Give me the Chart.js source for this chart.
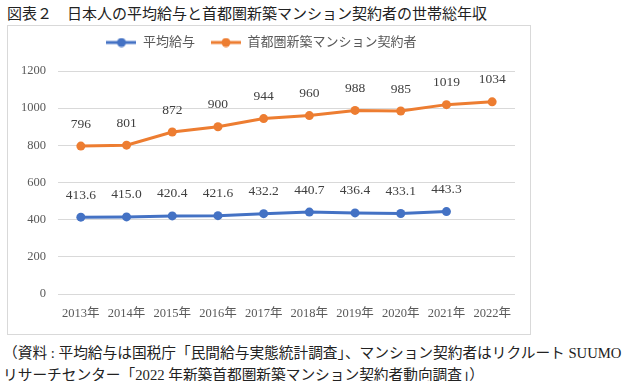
<!DOCTYPE html>
<html>
<head>
<meta charset="utf-8">
<script src="https://cdn.jsdelivr.net/npm/chart.js@4/dist/chart.umd.min.js"></script>
<style>
  body { margin: 0; background: #fff; width: 630px; height: 381px; position: relative; overflow: hidden; }
  .serif { font-family: "Liberation Serif", "Noto Sans CJK JP", serif; color: #222; }
  #title { position: absolute; left: 7px; top: 2px; font-size: 15px; white-space: nowrap; }
  #box { position: absolute; left: 7px; top: 25px; width: 522px; height: 308px; border: 1px solid #d9d9d9; }
  #wrap { position: absolute; left: 8px; top: 20px; width: 521px; height: 313px; }
  .note { position: absolute; left: 3px; font-size: 14.7px; white-space: nowrap; }
</style>
</head>
<body>
<div id="title" class="serif">図表２　日本人の平均給与と首都圏新築マンション契約者の世帯総年収</div>
<div id="box"></div>
<div id="wrap"><canvas id="chart" width="521" height="313"></canvas></div>
<div class="note serif" style="top:341px">（資料 : 平均給与は国税庁「民間給与実態統計調査」、マンション契約者はリクルート SUUMO</div>
<div class="note serif" style="top:363px">リサーチセンター「2022 年新築首都圏新築マンション契約者動向調査」）</div>
<script>
const years = ['2013年', '2014年', '2015年', '2016年', '2017年', '2018年', '2019年', '2020年', '2021年', '2022年']
const salary = [413.6, 415.0, 420.4, 421.6, 432.2, 440.7, 436.4, 433.1, 443.3, null]
const buyers = [796, 801, 872, 900, 944, 960, 988, 985, 1019, 1034]
const yTicks = [0, 200, 400, 600, 800, 1000, 1200]

const BLUE = '#4472C4'
const ORANGE = '#ED7D31'
const FONT = '"Liberation Serif", "Noto Sans CJK JP", serif'

// legend marker: line with a dot, like the spreadsheet legend
function legendMarker(color) {
    const c = document.createElement('canvas')
    c.width = 30
    c.height = 10
    const g = c.getContext('2d')
    g.strokeStyle = color
    g.lineWidth = 3
    g.beginPath()
    g.moveTo(0, 5)
    g.lineTo(30, 5)
    g.stroke()
    g.fillStyle = color
    g.beginPath()
    g.arc(15, 5, 4.5, 0, Math.PI * 2)
    g.fill()
    return c
}

// push the plot area down a bit below the legend
const legendGap = {
    id: 'legendGap',
    afterInit(chart) {
        const legend = chart.legend
        const fit = legend.fit
        legend.fit = function () {
            fit.call(legend)
            legend.height += 12
        }
    }
}

const valueLabels = {
    id: 'valueLabels',
    afterDatasetsDraw(chart) {
        const ctx = chart.ctx
        ctx.save()
        ctx.font = '13.5px ' + FONT
        ctx.fillStyle = '#404040'
        ctx.textAlign = 'center'
        ctx.textBaseline = 'middle'
        chart.data.datasets.forEach((ds, i) => {
            chart.getDatasetMeta(i).data.forEach((pt, j) => {
                const v = ds.data[j]
                if (v === null || v === undefined) return
                const txt = ds.decimals ? v.toFixed(ds.decimals) : String(v)
                ctx.fillText(txt, pt.x, pt.y - 22)
            })
        })
        ctx.restore()
    }
}

new Chart(document.getElementById('chart'), {
    type: 'line',
    data: {
        labels: years,
        datasets: [
            {
                label: '平均給与',
                data: salary,
                decimals: 1,
                borderColor: BLUE,
                backgroundColor: BLUE,
                borderWidth: 3,
                pointRadius: 4.5,
                pointBackgroundColor: BLUE,
                pointBorderWidth: 0
            },
            {
                label: '首都圏新築マンション契約者',
                data: buyers,
                decimals: 0,
                borderColor: ORANGE,
                backgroundColor: ORANGE,
                borderWidth: 3,
                pointRadius: 4.5,
                pointBackgroundColor: ORANGE,
                pointBorderWidth: 0
            }
        ]
    },
    plugins: [legendGap, valueLabels],
    options: {
        responsive: false,
        animation: false,
        layout: { padding: { top: 0, right: 14, left: 0, bottom: 0 } },
        plugins: {
            legend: {
                position: 'top',
                labels: {
                    usePointStyle: true,
                    pointStyleWidth: 30,
                    padding: 16,
                    color: '#595959',
                    font: { family: FONT, size: 13 },
                    generateLabels(chart) {
                        return chart.data.datasets.map((ds, i) => ({
                            text: ds.label,
                            fillStyle: ds.borderColor,
                            strokeStyle: ds.borderColor,
                            fontColor: '#595959',
                            lineWidth: 0,
                            pointStyle: legendMarker(ds.borderColor),
                            datasetIndex: i,
                            hidden: false
                        }))
                    }
                }
            },
            tooltip: { enabled: false }
        },
        scales: {
            x: {
                offset: true,
                grid: { display: false, drawTicks: false },
                border: { display: false },
                ticks: {
                    color: '#595959',
                    font: { family: FONT, size: 12.5 },
                    padding: 12,
                    maxRotation: 0,
                    autoSkip: false
                },
                afterFit(scale) { scale.height = 39 }
            },
            y: {
                min: 0,
                max: 1200,
                afterBuildTicks(scale) { scale.ticks = yTicks.map(v => ({ value: v })) },
                grid: { color: '#d9d9d9', lineWidth: 1, drawTicks: false },
                border: { display: false },
                ticks: {
                    color: '#595959',
                    font: { family: FONT, size: 12.5 },
                    padding: 12,
                    callback: v => String(v)
                },
                afterFit(scale) { scale.width = 50 }
            }
        }
    }
})
</script>
</body>
</html>
